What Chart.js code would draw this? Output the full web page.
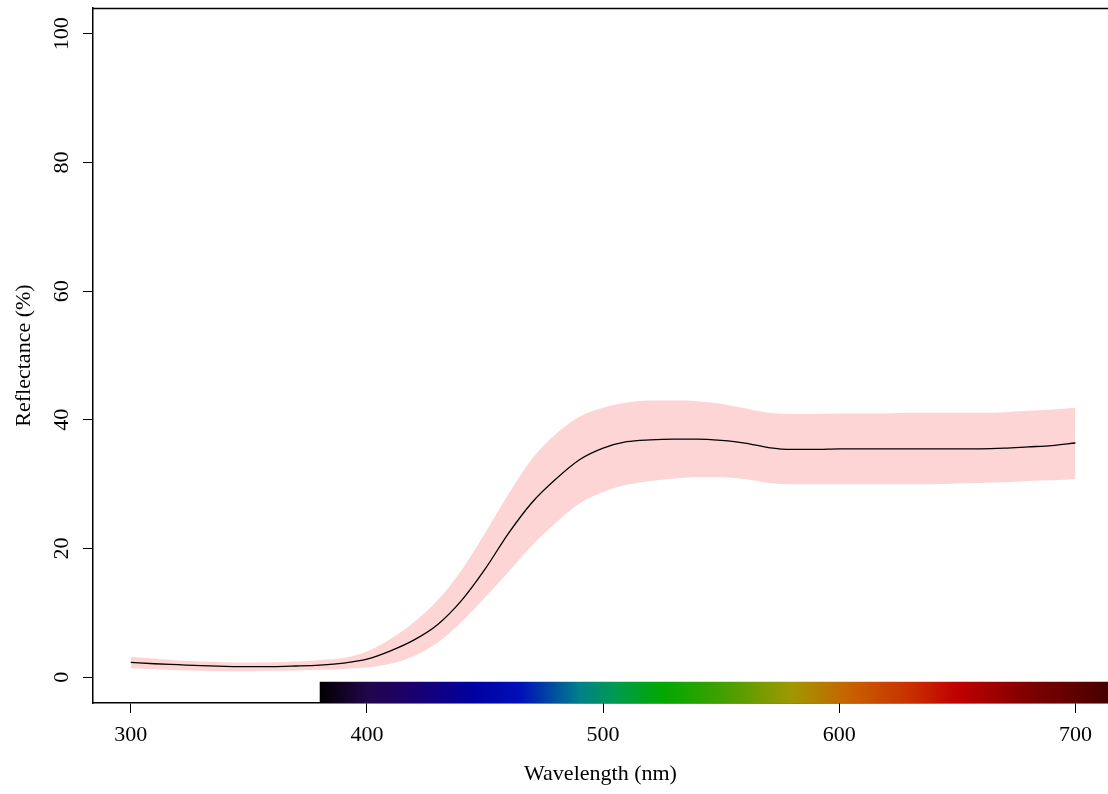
<!DOCTYPE html>
<html>
<head>
<meta charset="utf-8">
<script src="https://cdn.jsdelivr.net/npm/chart.js@4.4.1/dist/chart.umd.min.js"></script>
<style>
  html, body { margin: 0; padding: 0; background: #fff; }
  #wrap { width: 1108px; height: 794px; }
</style>
</head>
<body>
<div id="wrap"><canvas id="chart" width="1108" height="794"></canvas></div>
<script>
// reflectance spectrum
var wavelengths = [300, 310, 320, 330, 340, 350, 360, 370, 380, 390, 400, 410, 420, 430, 440, 450, 460, 470, 480, 490, 500,
                   510, 520, 530, 540, 550, 560, 570, 580, 590, 600, 610, 620, 630, 640, 650, 660, 670, 680, 690, 700];
var meanRefl  = [2.3, 2.1, 1.95, 1.8, 1.7, 1.65, 1.65, 1.75, 1.9, 2.2, 2.8, 4.1, 5.8, 8.2, 11.9, 16.8, 22.4, 27.2, 30.8, 33.8, 35.6,
                 36.6, 36.9, 37.0, 37.0, 36.8, 36.4, 35.7, 35.4, 35.4, 35.5, 35.5, 35.5, 35.5, 35.5, 35.5, 35.5, 35.6, 35.8, 36.0, 36.4];
var upperRefl = [3.2, 2.9, 2.6, 2.45, 2.35, 2.3, 2.35, 2.45, 2.7, 3.0, 4.0, 6.0, 8.6, 12.0, 16.6, 22.4, 28.5, 34.0, 37.8, 40.5, 41.9,
                 42.7, 43.0, 43.0, 42.9, 42.5, 41.8, 41.1, 40.9, 40.9, 41.0, 41.0, 41.0, 41.1, 41.1, 41.1, 41.1, 41.2, 41.4, 41.6, 41.9];
var lowerRefl = [1.4, 1.25, 1.1, 1.0, 0.95, 0.95, 1.0, 1.05, 1.15, 1.3, 1.5, 2.1, 3.3, 5.4, 8.6, 12.4, 16.4, 20.5, 24.0, 27.0, 28.8,
                 29.9, 30.5, 30.9, 31.1, 31.1, 30.8, 30.2, 30.0, 30.0, 30.0, 30.0, 30.0, 30.0, 30.0, 30.1, 30.2, 30.3, 30.5, 30.6, 30.8];
var xTicks = [300, 400, 500, 600, 700];
var yTicks = [0, 20, 40, 60, 80, 100];

// colour bar under the curve (visible range)
var spectrumFrom = 380, spectrumTo = 780;
var spectrumStops = [
  [380, '#000000'], [400, '#22064a'], [420, '#1a0070'], [445, '#0000a0'], [465, '#0010b8'],
  [490, '#00808a'], [505, '#009a50'], [525, '#00a800'], [550, '#40a000'], [580, '#a09800'],
  [605, '#c86000'], [630, '#c83000'], [650, '#c00000'], [680, '#800000'], [700, '#600000'], [720, '#3a0000'], [780, '#200000']
];

var serif = '"Liberation Serif", "DejaVu Serif", serif';

function pts(ys) {
  return wavelengths.map(function (w, i) { return { x: w, y: ys[i] }; });
}

var frame = {
  id: 'frame',
  beforeDatasetsDraw: function (chart) {
    var ctx = chart.ctx, xs = chart.scales.x, ys = chart.scales.y;
    var x0 = xs.getPixelForValue(spectrumFrom), x1 = xs.getPixelForValue(spectrumTo);
    var g = ctx.createLinearGradient(x0, 0, x1, 0);
    spectrumStops.forEach(function (s) {
      g.addColorStop((s[0] - spectrumFrom) / (spectrumTo - spectrumFrom), s[1]);
    });
    var yTop = ys.getPixelForValue(-0.7), yBot = ys.getPixelForValue(-4);
    ctx.save();
    ctx.fillStyle = g;
    ctx.fillRect(x0, yTop, x1 - x0, yBot - yTop);
    ctx.restore();
  },
  afterDraw: function (chart) {
    var ctx = chart.ctx, a = chart.chartArea, ys = chart.scales.y;
    ctx.save();
    // top edge of the box
    ctx.strokeStyle = '#000';
    ctx.lineWidth = 1.5;
    ctx.beginPath();
    ctx.moveTo(a.left, a.top + 0.5);
    ctx.lineTo(a.right, a.top + 0.5);
    ctx.stroke();
    // y tick labels, turned like in R
    ctx.fillStyle = '#000';
    ctx.font = '22px ' + serif;
    ctx.textAlign = 'center';
    ctx.textBaseline = 'middle';
    yTicks.forEach(function (v) {
      ctx.save();
      ctx.translate(62, ys.getPixelForValue(v));
      ctx.rotate(-Math.PI / 2);
      ctx.fillText(String(v), 0, 0);
      ctx.restore();
    });
    ctx.save();
    ctx.translate(24, (a.top + a.bottom) / 2);
    ctx.rotate(-Math.PI / 2);
    ctx.fillText('Reflectance (%)', 0, 0);
    ctx.restore();
    ctx.restore();
  }
};

new Chart(document.getElementById('chart'), {
  type: 'line',
  data: {
    datasets: [
      { data: pts(upperRefl), fill: '+1', backgroundColor: '#fdd5d5', borderWidth: 0, pointRadius: 0, cubicInterpolationMode: 'monotone', order: 2 },
      { data: pts(lowerRefl), fill: false, borderWidth: 0, pointRadius: 0, cubicInterpolationMode: 'monotone', order: 2 },
      { data: pts(meanRefl), fill: false, borderColor: '#000', borderWidth: 1.3, pointRadius: 0, cubicInterpolationMode: 'monotone', order: 1 }
    ]
  },
  options: {
    responsive: false,
    animation: false,
    events: [],
    layout: { padding: { top: 8, right: 0, left: 0, bottom: 0 } },
    plugins: { legend: { display: false }, tooltip: { enabled: false } },
    scales: {
      x: {
        type: 'linear',
        min: 284,
        max: 713.8,
        afterBuildTicks: function (s) { s.ticks = xTicks.map(function (v) { return { value: v }; }); },
        afterFit: function (s) { s.height = 91; },
        grid: { drawOnChartArea: false, drawTicks: true, tickLength: 10, color: '#000' },
        border: { display: true, color: '#000', width: 1.5 },
        ticks: { color: '#000', font: { family: serif, size: 22 }, padding: 9, maxRotation: 0 },
        title: { display: true, text: 'Wavelength (nm)', color: '#000', font: { family: serif, size: 22 }, padding: { top: 0, bottom: 7 } }
      },
      y: {
        type: 'linear',
        min: -4,
        max: 104,
        afterBuildTicks: function (s) { s.ticks = yTicks.map(function (v) { return { value: v }; }); },
        afterFit: function (s) { s.width = 93; },
        grid: { drawOnChartArea: false, drawTicks: true, tickLength: 10, color: '#000' },
        border: { display: true, color: '#000', width: 1.5 },
        ticks: { display: false }
      }
    }
  },
  plugins: [frame]
});
</script>
</body>
</html>
